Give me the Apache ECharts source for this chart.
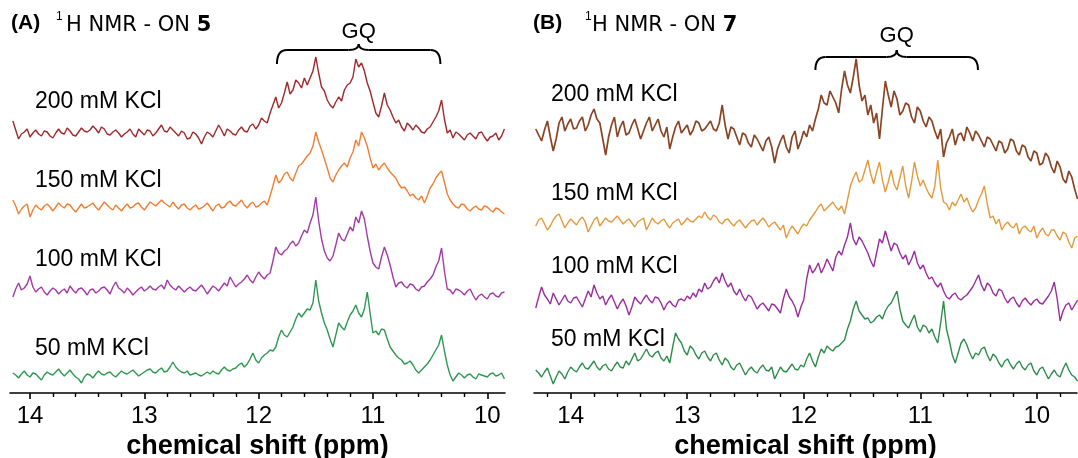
<!DOCTYPE html>
<html>
<head>
<meta charset="utf-8">
<script src="https://cdn.jsdelivr.net/npm/echarts@6/dist/echarts.min.js"></script>
<style>
    html, body { margin: 0; padding: 0; background: #fff; }
    #main { width: 1078px; height: 458px; }
</style>
</head>
<body>
<div id="main"></div>
<script>
// chemical shift grid (ppm), panel A and panel B
var ppmA = [14.150, 14.125, 14.100, 14.075, 14.050, 14.025, 14.000, 13.975, 13.950, 13.925, 13.900, 13.875, 13.850, 13.825, 13.800, 13.775, 13.750, 13.725, 13.700, 13.675,
    13.650, 13.625, 13.600, 13.575, 13.550, 13.525, 13.500, 13.475, 13.450, 13.425, 13.400, 13.375, 13.350, 13.325, 13.300, 13.275, 13.250, 13.225, 13.200, 13.175,
    13.150, 13.125, 13.100, 13.075, 13.050, 13.025, 13.000, 12.975, 12.950, 12.925, 12.900, 12.875, 12.850, 12.825, 12.800, 12.775, 12.750, 12.725, 12.700, 12.675,
    12.650, 12.625, 12.600, 12.575, 12.550, 12.525, 12.500, 12.475, 12.450, 12.425, 12.400, 12.375, 12.350, 12.325, 12.300, 12.275, 12.250, 12.225, 12.200, 12.175,
    12.150, 12.125, 12.100, 12.075, 12.050, 12.025, 12.000, 11.975, 11.950, 11.925, 11.900, 11.875, 11.850, 11.825, 11.800, 11.775, 11.750, 11.725, 11.700, 11.675,
    11.650, 11.625, 11.600, 11.575, 11.550, 11.525, 11.500, 11.475, 11.450, 11.425, 11.400, 11.375, 11.350, 11.325, 11.300, 11.275, 11.250, 11.225, 11.200, 11.175,
    11.150, 11.125, 11.100, 11.075, 11.050, 11.025, 11.000, 10.975, 10.950, 10.925, 10.900, 10.875, 10.850, 10.825, 10.800, 10.775, 10.750, 10.725, 10.700, 10.675,
    10.650, 10.625, 10.600, 10.575, 10.550, 10.525, 10.500, 10.475, 10.450, 10.425, 10.400, 10.375, 10.350, 10.325, 10.300, 10.275, 10.250, 10.225, 10.200, 10.175,
    10.150, 10.125, 10.100, 10.075, 10.050, 10.025, 10.000, 9.975, 9.950, 9.925, 9.900, 9.875, 9.850];
var ppmB = [14.300, 14.275, 14.250, 14.225, 14.200, 14.175, 14.150, 14.125, 14.100, 14.075, 14.050, 14.025, 14.000, 13.975, 13.950, 13.925, 13.900, 13.875, 13.850, 13.825,
    13.800, 13.775, 13.750, 13.725, 13.700, 13.675, 13.650, 13.625, 13.600, 13.575, 13.550, 13.525, 13.500, 13.475, 13.450, 13.425, 13.400, 13.375, 13.350, 13.325,
    13.300, 13.275, 13.250, 13.225, 13.200, 13.175, 13.150, 13.125, 13.100, 13.075, 13.050, 13.025, 13.000, 12.975, 12.950, 12.925, 12.900, 12.875, 12.850, 12.825,
    12.800, 12.775, 12.750, 12.725, 12.700, 12.675, 12.650, 12.625, 12.600, 12.575, 12.550, 12.525, 12.500, 12.475, 12.450, 12.425, 12.400, 12.375, 12.350, 12.325,
    12.300, 12.275, 12.250, 12.225, 12.200, 12.175, 12.150, 12.125, 12.100, 12.075, 12.050, 12.025, 12.000, 11.975, 11.950, 11.925, 11.900, 11.875, 11.850, 11.825,
    11.800, 11.775, 11.750, 11.725, 11.700, 11.675, 11.650, 11.625, 11.600, 11.575, 11.550, 11.525, 11.500, 11.475, 11.450, 11.425, 11.400, 11.375, 11.350, 11.325,
    11.300, 11.275, 11.250, 11.225, 11.200, 11.175, 11.150, 11.125, 11.100, 11.075, 11.050, 11.025, 11.000, 10.975, 10.950, 10.925, 10.900, 10.875, 10.850, 10.825,
    10.800, 10.775, 10.750, 10.725, 10.700, 10.675, 10.650, 10.625, 10.600, 10.575, 10.550, 10.525, 10.500, 10.475, 10.450, 10.425, 10.400, 10.375, 10.350, 10.325,
    10.300, 10.275, 10.250, 10.225, 10.200, 10.175, 10.150, 10.125, 10.100, 10.075, 10.050, 10.025, 10.000, 9.975, 9.950, 9.925, 9.900, 9.875, 9.850, 9.825,
    9.800, 9.775, 9.750, 9.725, 9.700, 9.675, 9.650];

// intensities (a.u.) of ON 5 at each KCl concentration
var on5_200 = [14, 5, -4, 1, 3, 6, -2, 2, 5, 1, -1, 4, 3, -1, -3, 2, 6, 2, 1, 7,
    4, 0, -1, 3, 7, 4, 3, 5, 9, 6, 2, 8, 6, 1, 0, 3, 5, 2, -2, 1,
    3, 6, 1, -2, 6, 3, 0, 5, 4, -1, 2, 6, 10, 4, 3, 8, 5, 2, -1, 4,
    2, -4, -3, 3, 1, -3, -9, -2, 3, 1, -2, 4, 10, 5, -1, 6, 4, 1, 0, 5,
    8, 4, 3, 9, 11, 6, 10, 17, 14, 12, 22, 30, 38, 27, 32, 42, 53, 41, 45, 55,
    52, 47, 57, 50, 57, 64, 78, 62, 48, 44, 35, 30, 27, 33, 38, 34, 45, 50, 52, 58,
    76, 68, 72, 64, 52, 44, 33, 22, 18, 29, 42, 30, 25, 18, 12, 15, 8, 4, 12, 9,
    5, 10, 7, 3, 2, 6, 8, 13, 18, 24, 35, 16, 2, 5, -3, 3, 1, -2, -5, 0,
    2, -1, -4, 2, 3, -2, -6, -2, -1, 2, -5, -1, 6];
var on5_150 = [8, 2, -6, -1, 2, 4, -9, -2, 3, 0, -2, 2, 4, 1, -3, 1, 5, 2, 0, 4,
    3, -1, -4, 0, 4, 0, 1, 3, 5, 1, -2, 2, 6, 3, 0, -2, 3, 0, -3, 1,
    4, 0, 1, 4, 5, 1, -2, 2, 6, 4, 2, 5, 8, 5, 3, 1, 6, 2, -1, 3,
    4, 0, -2, 1, 3, -1, 0, 2, 5, 1, -3, 2, 4, 0, 1, 5, 7, 3, 2, 5,
    8, 3, 0, 4, 6, 1, 2, 5, 7, 3, 12, 22, 33, 25, 28, 34, 36, 30, 27, 35,
    42, 44, 48, 52, 55, 62, 76, 66, 58, 49, 40, 30, 26, 33, 38, 42, 45, 41, 50, 56,
    68, 62, 76, 70, 62, 50, 40, 44, 38, 42, 45, 40, 36, 33, 30, 24, 20, 21, 17, 12,
    14, 10, 8, 12, 5, 12, 20, 24, 30, 34, 37, 26, 14, 8, 4, 1, 0, 4, 3, -1,
    -3, 0, 2, -1, -2, 2, 1, -2, -4, 0, -1, -4, -6];
var on5_100 = [-6, 2, 8, 1, 3, 7, 15, 4, -1, 2, 4, -1, -4, 0, 3, 1, -3, 0, 2, -2,
    5, 1, -2, 2, 3, 0, -4, 1, 2, -2, 0, 3, 4, 1, -3, 4, 9, 3, 1, -2,
    3, 0, -4, -1, 2, 4, 0, 2, 5, 2, 1, 4, 6, 2, 11, 6, 3, 1, 5, 2,
    -1, 2, 4, 1, 0, 3, 6, 2, -3, 1, 5, 3, 0, 4, 8, 5, 14, 9, 4, 7,
    9, 12, 16, 11, 8, 14, 19, 15, 12, 16, 18, 30, 44, 38, 36, 40, 42, 47, 50, 45,
    48, 55, 61, 58, 68, 76, 94, 70, 52, 40, 33, 30, 35, 46, 58, 52, 50, 57, 64, 60,
    74, 68, 80, 72, 55, 40, 28, 24, 22, 34, 44, 36, 26, 14, 4, 8, 9, 5, 3, 7,
    6, 2, 0, 4, 5, 9, 12, 16, 24, 30, 43, 20, 2, 1, -3, 2, 1, -1, -4, 0,
    2, -4, -9, -5, -3, -6, -8, -3, -2, -5, -6, -2, -1];
var on5_50 = [2, 0, -3, 1, 4, 0, -2, 2, 1, -2, -5, 0, 3, 1, 0, 3, 6, 2, -1, 2,
    5, 1, -2, -4, -8, -2, 1, 0, -3, 1, 4, 1, 0, 2, 3, 0, -2, 1, 4, 2,
    1, 3, 5, 2, -1, 1, 3, 5, 6, 3, 2, 5, 7, 3, 4, 8, 13, 8, 5, 3,
    2, 4, 0, 1, 2, 0, -1, 1, 3, 1, 4, 2, 1, 5, 8, 5, 4, 6, 7, 10,
    12, 8, 11, 16, 22, 15, 12, 17, 20, 22, 25, 24, 28, 38, 45, 40, 38, 43, 48, 56,
    62, 58, 62, 66, 65, 72, 95, 74, 62, 52, 45, 36, 28, 40, 52, 48, 45, 53, 60, 64,
    70, 62, 58, 66, 83, 62, 42, 44, 40, 46, 45, 36, 28, 24, 20, 17, 15, 11, 12, 14,
    10, 5, 2, 5, 8, 11, 15, 20, 25, 30, 40, 24, 10, 0, -6, -2, 2, 0, -3, 0,
    1, -2, -4, 1, 0, -1, -2, 1, 2, -1, 0, 2, -4];

// intensities (a.u.) of ON 7
var on7_200 = [4, -2, -8, 3, 12, -4, -18, -6, 10, 16, 2, 9, 14, 4, 5, 12, 16, 2, 8, 18,
    24, 14, 10, -6, -22, -4, 8, 16, -4, 6, 12, -2, 0, 8, 14, 4, -6, 2, 10, 16,
    2, 8, 14, 2, -4, 6, -16, -4, 6, 12, 0, 4, 8, -2, 3, 12, 10, 2, 4, 8,
    12, 4, 2, 10, 28, 8, -6, 6, 4, -4, -12, 0, -2, -10, -14, -2, -6, -12, -18, -8,
    -4, -14, -30, -16, -8, -2, -14, -20, -4, 2, -16, -8, 2, -4, 8, 2, 14, 24, 38, 30,
    28, 42, 36, 30, 20, 44, 62, 48, 40, 56, 74, 48, 32, 38, 18, 28, 10, 20, -6, 24,
    52, 38, 26, 42, 34, 18, 22, 30, 28, 16, 10, 26, 22, 12, 6, 16, 12, 2, -6, 4,
    -24, -10, -4, 4, -12, -2, 0, -8, 6, 0, -8, 2, -2, -8, -14, -4, -6, -12, -18, -8,
    -10, -20, -16, -6, -8, -18, -22, -12, -14, -24, -28, -18, -20, -32, -30, -20, -24, -34, -40, -28,
    -34, -46, -50, -38, -44, -56, -66];
var on7_150 = [-4, 2, 4, -2, -8, -4, 2, 6, 8, 1, -6, -1, 3, 0, -3, 2, 5, 0, -10, -4,
    2, 5, -4, 0, 4, 1, 0, 3, 6, 2, -2, 1, 3, -1, -5, 0, 2, 4, -8, -2,
    4, 0, -2, 1, 3, -2, -6, -1, 1, 3, -3, 0, 4, 1, 0, 3, 6, 4, 10, 5,
    2, 7, 5, 0, -2, 2, 3, -1, -4, 0, 2, -2, -6, -2, 1, 2, -3, 1, 4, 0,
    -5, -2, 0, -4, -8, -3, -16, -9, -4, -8, -12, -6, -2, -4, 2, 6, 10, 15, 18, 11,
    14, 17, 20, 15, 12, 16, 8, 22, 36, 44, 50, 40, 42, 52, 62, 48, 38, 50, 60, 42,
    30, 40, 52, 38, 32, 44, 56, 36, 24, 40, 60, 46, 36, 42, 34, 28, 24, 36, 62, 34,
    20, 18, 12, 20, 16, 22, 28, 20, 24, 16, 10, 14, 22, 28, 36, 18, 4, 6, -2, 3,
    -8, -3, 0, -4, -6, -1, -12, -6, -4, -8, -10, -4, -16, -10, -6, -12, -14, -8, -8, -14,
    -18, -10, -12, -20, -26, -16, -14];
var on7_100 = [-7, 4, 14, 6, 2, -3, 8, 2, -4, 1, 6, 0, -2, 3, 4, -1, -6, 2, 10, 4,
    16, 8, 2, 5, -4, 2, 6, -1, -8, -2, 2, -5, -14, -6, 4, 0, -3, 2, 6, 1,
    -2, 4, 3, -2, -9, -3, 0, -4, -6, 1, 2, 0, 5, 2, 8, 4, 12, 9, 18, 12,
    14, 20, 24, 18, 28, 20, 14, 18, 10, 6, 12, 5, 0, 6, 4, -2, -8, -4, -2, -6,
    -10, -3, -4, -8, -12, 2, 12, 4, 0, -6, -16, -6, 1, 22, 36, 28, 32, 38, 28, 34,
    42, 36, 30, 44, 50, 46, 56, 64, 78, 62, 56, 64, 60, 54, 48, 40, 34, 48, 62, 58,
    70, 60, 50, 58, 56, 48, 42, 46, 36, 42, 50, 38, 32, 36, 28, 22, 24, 18, 14, 18,
    10, 4, 2, 6, 8, 3, 1, 4, 6, 10, 14, 20, 26, 16, 10, 18, 15, 8, 5, 12,
    10, 3, -2, 2, 4, -2, -6, 0, 3, -1, -4, 0, 2, -2, -3, 1, 5, 10, 19, 2,
    -20, -10, -4, -2, -9, -4, 1];
var on7_50 = [3, 0, -4, 1, 5, -3, -11, -4, 2, -1, -6, 1, 6, 3, 1, 6, 10, 5, 4, 8,
    12, 6, 3, 7, 9, 4, 2, 7, 11, 6, 5, 12, 8, 14, 20, 12, 14, 19, 24, 18,
    16, 20, 22, 15, 12, 17, 10, 26, 40, 34, 30, 22, 18, 27, 24, 18, 14, 20, 22, 16,
    12, 18, 20, 13, 8, 15, 12, 6, 3, 8, 10, 4, -2, 3, 6, 2, 0, 5, 8, 3,
    2, 6, -6, 0, 6, 2, 1, 5, 9, 4, 3, 8, 6, 14, 20, 12, 6, 16, 24, 20,
    27, 24, 22, 26, 27, 30, 33, 44, 52, 64, 72, 62, 58, 54, 55, 50, 52, 56, 58, 54,
    62, 67, 70, 76, 82, 64, 52, 48, 45, 52, 58, 46, 41, 48, 46, 40, 44, 36, 30, 50,
    72, 44, 32, 18, 10, 20, 30, 34, 28, 20, 14, 20, 18, 24, 26, 18, 12, 19, 16, 10,
    6, 12, 14, 8, 4, 9, 12, 6, 3, 8, 10, 2, -2, 4, 6, 0, -6, -1, 3, -2,
    -4, 4, 10, 3, -2, -4, -8];

var kclLabels = ['200 mM KCl', '150 mM KCl', '100 mM KCl', '50 mM KCl'];
var majorTicks = [14, 13, 12, 11, 10];
var minorTicksA = [13.8, 13.6, 13.4, 13.2, 12.8, 12.6, 12.4, 12.2, 11.8, 11.6, 11.4, 11.2, 10.8, 10.6, 10.4, 10.2];
var minorTicksB = [14.2, 13.8, 13.6, 13.4, 13.2, 12.8, 12.6, 12.4, 12.2, 11.8, 11.6, 11.4, 11.2, 10.8, 10.6, 10.4, 10.2, 9.8];
var gqRangeA = [11.84, 10.41];
var gqRangeB = [11.90, 10.505];

//布局
var AXIS_Y = 393;
var FONT = "'Liberation Sans', Arial, sans-serif";
var panels = [{
    left: 10, right: 505, min: 9.845, max: 14.175,
    ppm: ppmA, traces: [on5_200, on5_150, on5_100, on5_50],
    base: [135, 208, 291, 375], labelX: 35, labelY: [102, 181, 260, 349],
    colors: ['#a0282c', '#f07f33', '#a33aa6', '#2f9852'], widths: [1.4, 1.4, 1.4, 1.4],
    minor: minorTicksA, gq: gqRangeA, brace: [64, 50, 44], gqY: 32,
    tag: '(A)', tagX: 11, supX: 56, titleX: 66, num: '5'
}, {
    left: 534, right: 1077, min: 9.655, max: 14.315,
    ppm: ppmB, traces: [on7_200, on7_150, on7_100, on7_50],
    base: [133, 222, 301, 373], labelX: 551, labelY: [95, 194, 267, 340],
    colors: ['#8a4424', '#e39a3d', '#9a2c9e', '#2e8c4b'], widths: [1.7, 1.4, 1.4, 1.4],
    minor: minorTicksB, gq: gqRangeB, brace: [70, 57, 50], gqY: 36,
    tag: '(B)', tagX: 533, supX: 585, titleX: 592, num: '7'
}];

var grids = [], xAxes = [], yAxes = [], series = [];
panels.forEach(function (p, k) {
    // outerBoundsMode none: keep the grid where it is put
    grids.push({left: p.left, width: p.right - p.left, top: 0, height: AXIS_Y, outerBoundsMode: 'none', containLabel: false});
    // major ticks + labels
    xAxes.push({
        gridIndex: k, type: 'value', inverse: true, min: p.min, max: p.max, position: 'bottom',
        axisLine: {show: true, lineStyle: {color: '#000', width: 1.6}},
        axisTick: {show: true, customValues: majorTicks, length: 6, lineStyle: {color: '#000', width: 1.6}},
        axisLabel: {show: true, customValues: majorTicks, margin: 11, color: '#000', fontSize: 24, fontFamily: FONT},
        splitLine: {show: false},
        name: 'chemical shift (ppm)', nameLocation: 'middle', nameGap: 33,
        nameTextStyle: {color: '#000', fontSize: 27, fontWeight: 'bold', fontFamily: FONT}
    });
    // minor ticks
    xAxes.push({
        gridIndex: k, type: 'value', inverse: true, min: p.min, max: p.max, position: 'bottom',
        axisLine: {show: false},
        axisTick: {show: true, customValues: p.minor, length: 4, lineStyle: {color: '#000', width: 1.4}},
        axisLabel: {show: false},
        splitLine: {show: false}
    });
    yAxes.push({gridIndex: k, type: 'value', min: 0, max: AXIS_Y, show: false});

    p.traces.forEach(function (vals, j) {
        var offset = AXIS_Y - p.base[j];
        series.push({
            type: 'line', xAxisIndex: k * 2, yAxisIndex: k,
            data: p.ppm.map(function (x, i) { return [x, vals[i] + offset]; }),
            showSymbol: false, smooth: false, silent: true,
            lineStyle: {color: p.colors[j], width: p.widths[j]}
        });
    });
});

var chart = echarts.init(document.getElementById('main'), null, {renderer: 'canvas'});
chart.setOption({
    animation: false,
    backgroundColor: '#fff',
    grid: grids,
    xAxis: xAxes,
    yAxis: yAxes,
    series: series
});

// 文字和括号
var braceStyle = {stroke: '#000', lineWidth: 2, fill: null};
function braceParts(x1, x2, yEnd, yTop, yCusp) {
    var r = 10, xc = (x1 + x2) / 2;
    var curve = function (ax, ay, bx, by, cx, cy) {
        return {type: 'bezierCurve', silent: true, shape: {x1: ax, y1: ay, x2: bx, y2: by, cpx1: cx, cpy1: cy}, style: braceStyle};
    };
    var line = function (ax, bx) {
        return {type: 'line', silent: true, shape: {x1: ax, y1: yTop, x2: bx, y2: yTop}, style: braceStyle};
    };
    return [
        curve(x1, yEnd, x1 + r, yTop, x1, yTop),
        line(x1 + r, xc - r),
        curve(xc - r, yTop, xc, yCusp, xc, yTop),
        curve(xc, yCusp, xc + r, yTop, xc, yTop),
        line(xc + r, x2 - r),
        curve(x2 - r, yTop, x2, yEnd, x2, yTop)
    ];
}

function txt(text, x, y, font, align) {
    return {
        type: 'text', silent: true,
        style: {text: text, x: x, y: y, font: font, fill: '#000',
            textAlign: align || 'left', align: align || 'left', textVerticalAlign: 'middle', verticalAlign: 'middle'}
    };
}

var graphics = [];
panels.forEach(function (p, k) {
    var x1 = chart.convertToPixel({xAxisIndex: k * 2}, p.gq[0]);
    var x2 = chart.convertToPixel({xAxisIndex: k * 2}, p.gq[1]);
    graphics = graphics.concat(braceParts(x1, x2, p.brace[0], p.brace[1], p.brace[2]));
    graphics.push(txt('GQ', (x1 + x2) / 2, p.gqY, '22px ' + FONT, 'center'));

    kclLabels.forEach(function (lab, j) {
        graphics.push(txt(lab, p.labelX, p.labelY[j], '23px ' + FONT));
    });

    graphics.push(txt(p.tag, p.tagX, 23, 'bold 21px ' + FONT));
    graphics.push(txt('1', p.supX, 17, '12px ' + FONT));
    graphics.push({
        type: 'text', silent: true,
        style: {
            text: '{n|H NMR - ON }{b|' + p.num + '}', x: p.titleX, y: 26,
            textVerticalAlign: 'middle', verticalAlign: 'middle', fill: '#000',
            rich: {
                n: {fontSize: 21, fontFamily: "'DejaVu Sans', sans-serif", fill: '#000'},
                b: {fontSize: 21, fontWeight: 'bold', fontFamily: "'DejaVu Sans', sans-serif", fill: '#000'}
            }
        }
    });
});
chart.setOption({graphic: graphics});
</script>
</body>
</html>
